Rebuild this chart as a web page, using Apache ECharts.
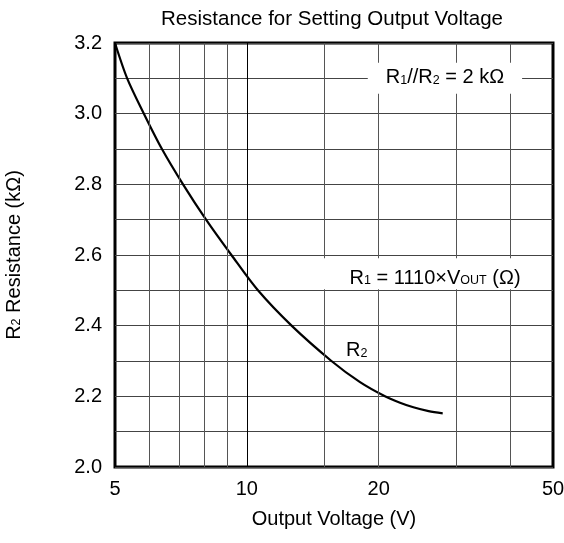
<!DOCTYPE html>
<html>
<head>
<meta charset="utf-8">
<script src="https://cdn.jsdelivr.net/npm/echarts@6/dist/echarts.min.js"></script>
<style>
html,body{margin:0;padding:0;background:#fff;}
#chart{width:564px;height:543px;}
</style>
</head>
<body>
<div id="chart"></div>
<script>
// ---- data ----
const voltage = [5, 5.33, 5.82, 6.4, 7.15, 8.07, 9.22, 10.6, 12.65, 15.6, 18.13, 20.67, 22.37, 24.0, 26.0, 28.0];
const r2Resistance = [3.20, 3.10, 3.00, 2.90, 2.80, 2.70, 2.60, 2.50, 2.40, 2.30, 2.24, 2.20, 2.182, 2.169, 2.158, 2.152];
const xTickLabels = [5, 10, 20, 50];
const xGridValues = [6, 7, 8, 9, 10, 15, 20, 30, 40];
const yRange = [2.0, 3.2];
const yStep = 0.1;
const titleText = 'Resistance for Setting Output Voltage';
const xName = 'Output Voltage (V)';
// annotation anchors [V, R]
const annoParallel = [28.33, 3.1];
const annoR1 = [26.9, 2.547];
const annoR2 = [17.81, 2.329];

const FONT = 'Liberation Sans, Arial, Helvetica, sans-serif';
const FS = 20;

const chart = echarts.init(document.getElementById('chart'), null, {renderer: 'canvas'});

const richBase = {
  n: {fontSize: FS, fontFamily: FONT, color: '#000', lineHeight: 20},
  s: {fontSize: 12.5, fontFamily: FONT, color: '#000', verticalAlign: 'bottom', lineHeight: 20, padding: [0, 0, 1, 0]}
};
const annoLabel = (fmt, extra) => Object.assign({
  show: true, position: 'inside', formatter: fmt, color: '#000', opacity: 1,
  textBorderWidth: 0, textShadowBlur: 0, rich: richBase
}, extra || {});

const option = {
  animation: false,
  backgroundColor: '#fff',
  graphic: [{
    type: 'text',
    x: 332, y: 19,
    style: {text: titleText, font: '20.5px ' + FONT, fill: '#000', textAlign: 'center', textVerticalAlign: 'middle'}
  }],
  grid: {
    left: 115, top: 43, width: 438, height: 424,
    containLabel: false, outerBoundsMode: 'none',
    show: true, borderColor: '#000', borderWidth: 3, backgroundColor: 'transparent'
  },
  xAxis: {
    type: 'log', logBase: 10, min: 5, max: 50,
    axisLine: {show: false}, axisTick: {show: false}, splitLine: {show: false},
    axisLabel: {customValues: xTickLabels, fontSize: FS, fontFamily: FONT, color: '#000', margin: 12,
      showMinLabel: true, showMaxLabel: true},
    name: xName, nameLocation: 'middle', nameGap: 42,
    nameTextStyle: {fontSize: FS, fontFamily: FONT, color: '#000'}
  },
  yAxis: {
    type: 'value', min: yRange[0], max: yRange[1], interval: yStep,
    axisLine: {show: false}, axisTick: {show: false},
    splitLine: {show: true, lineStyle: {color: '#444', width: 1}},
    axisLabel: {
      fontSize: FS, fontFamily: FONT, color: '#000', margin: 13,
      formatter: v => (Math.round(v * 10) % 2 === 0 ? v.toFixed(1) : '')
    },
    name: '{n|R}{s|2}{n| Resistance (kΩ)}',
    nameLocation: 'middle', nameGap: 91, nameRotate: 90,
    nameTextStyle: {rich: richBase}
  },
  series: [
    {
      type: 'line',
      data: voltage.map((v, i) => [v, r2Resistance[i]]),
      smooth: 0.3,
      showSymbol: false, symbol: 'none',
      lineStyle: {color: '#000', width: 2.2},
      z: 3,
      markLine: {
        silent: true, symbol: 'none', animation: false,
        label: {show: false},
        data: xGridValues.map(v => ({xAxis: v, lineStyle: {color: v === 10 ? '#000' : '#555', width: 1, type: 'solid'}}))
      }
    },
    {
      type: 'scatter',
      z: 10,
      symbolSize: 1,
      itemStyle: {color: 'rgba(255,255,255,0)'},
      silent: true,
      emphasis: {disabled: true},
      data: [
        {value: annoParallel, label: annoLabel('{n|R}{s|1}{n|//R}{s|2}{n| = 2 kΩ}',
          {backgroundColor: '#fff', padding: [5, 18, 6, 18]})},
        {value: annoR1, label: annoLabel('{n|R}{s|1}{n| = 1110×V}{s|OUT}{n| (Ω)}',
          {backgroundColor: '#fff', padding: [10, 28, 1, 28]})},
        {value: annoR2, label: annoLabel('{n|R}{s|2}')}
      ]
    }
  ]
};
chart.setOption(option);
</script>
</body>
</html>
